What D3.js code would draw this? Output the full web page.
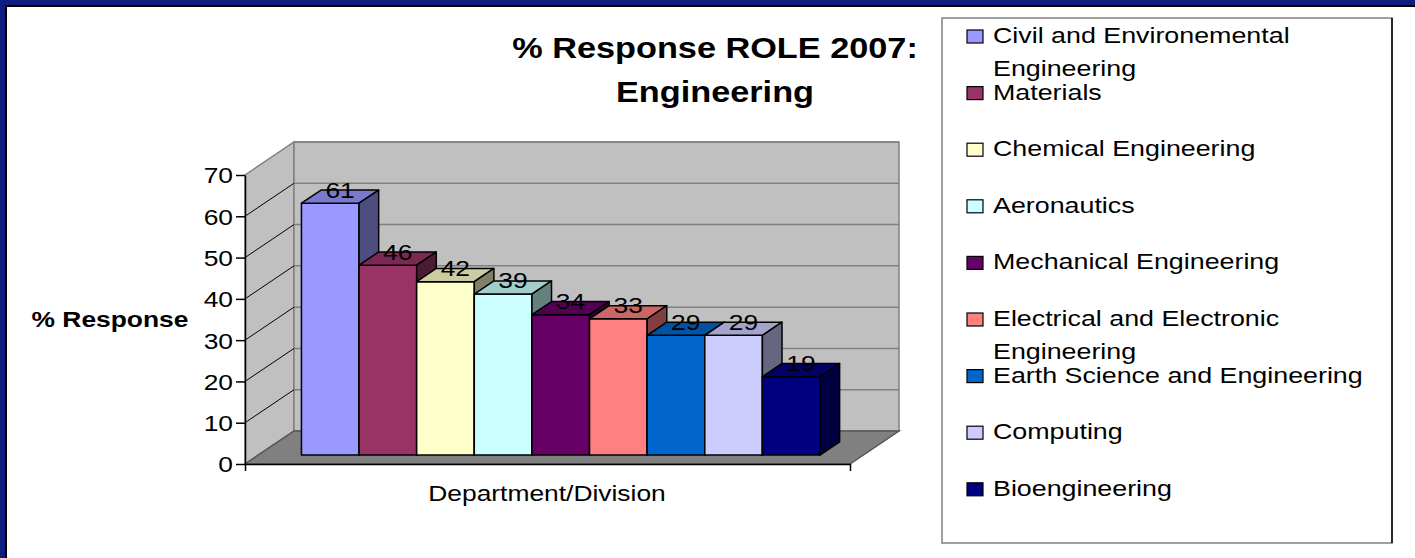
<!DOCTYPE html>
<html>
<head>
<meta charset="utf-8">
<script src="https://cdn.jsdelivr.net/npm/d3@7"></script>
<style>
  body { margin: 0; background: #fff; }
  text { font-family: "Liberation Sans", Arial, sans-serif; fill: #000; }
</style>
</head>
<body>
<div id="chart"></div>
<script>
// data
const departments = [
  "Civil and Environemental Engineering",
  "Materials",
  "Chemical Engineering",
  "Aeronautics",
  "Mechanical Engineering",
  "Electrical and Electronic Engineering",
  "Earth Science and Engineering",
  "Computing",
  "Bioengineering"
];
const responses = [61, 46, 42, 39, 34, 33, 29, 29, 19];
const barColors = ["#9999FF", "#993366", "#FFFFCC", "#CCFFFF", "#660066", "#FF8080", "#0066CC", "#CCCCFF", "#000080"];
const yTicks = [0, 10, 20, 30, 40, 50, 60, 70];
const categoryLabel = "Department/Division";

const W = 1415, H = 558;
const SX = 1.2;            // the original text is stretched sideways
const DX = 49, DY = -33;   // depth of the 3D box
const F0 = 0.27, F1 = 0.67; // where the bars sit in that depth

const svg = d3.select("#chart").append("svg").attr("width", W).attr("height", H);

// page frame
svg.append("rect").attr("x", 0).attr("y", 0).attr("width", W).attr("height", 7).attr("fill", "#000");
svg.append("rect").attr("x", 0).attr("y", 0).attr("width", 7).attr("height", H).attr("fill", "#000");
svg.append("rect").attr("x", 0).attr("y", 0).attr("width", W).attr("height", 5).attr("fill", "#0E1E7E");
svg.append("rect").attr("x", 0).attr("y", 0).attr("width", 5).attr("height", H).attr("fill", "#0E1E7E");

const y = d3.scaleLinear().domain([0, 70]).range([464, 175]);
const xFloor = d3.scaleLinear().domain([0, 1]).range([245, 850]);
const x = d3.scaleBand().domain(departments).range(xFloor.range()).paddingOuter(0.75).paddingInner(0);

const line = d3.line();
const x0 = xFloor(0), x1 = xFloor(1), yb = y(0), yt = y(70);

const g = svg.append("g");

// side wall, back wall, floor
g.append("path").attr("d", line([[x0, yt], [x0 + DX, yt + DY], [x0 + DX, yb + DY], [x0, yb]]) + "Z")
  .attr("fill", "#C0C0C0").attr("stroke", "#808080").attr("stroke-width", 1.5);
g.append("path").attr("d", line([[x0 + DX, yt + DY], [x1 + DX, yt + DY], [x1 + DX, yb + DY], [x0 + DX, yb + DY]]) + "Z")
  .attr("fill", "#C0C0C0").attr("stroke", "#808080").attr("stroke-width", 1.5);
g.append("path").attr("d", line([[x0, yb], [x1, yb], [x1 + DX, yb + DY], [x0 + DX, yb + DY]]) + "Z")
  .attr("fill", "#808080").attr("stroke", "#555").attr("stroke-width", 1.5);

// gridlines
g.selectAll(".grid-back").data(yTicks.slice(1)).enter().append("line")
  .attr("x1", x0 + DX).attr("x2", x1 + DX)
  .attr("y1", d => y(d) + DY).attr("y2", d => y(d) + DY)
  .attr("stroke", "#808080").attr("stroke-width", 1.5);
g.selectAll(".grid-side").data(yTicks.slice(1, -1)).enter().append("line")
  .attr("x1", x0).attr("x2", x0 + DX)
  .attr("y1", d => y(d)).attr("y2", d => y(d) + DY)
  .attr("stroke", "#000").attr("stroke-width", 1);

// axes
const yAxis = g.append("g").attr("transform", `translate(${x0},0)`)
  .call(d3.axisLeft(y).tickValues(yTicks).tickSize(9).tickSizeOuter(0).tickPadding(3));
yAxis.select(".domain").attr("stroke", "#000").attr("stroke-width", 1.5);
yAxis.selectAll(".tick line").attr("stroke", "#000").attr("stroke-width", 1.5);
yAxis.selectAll(".tick text").attr("x", -12 / SX).attr("dy", "0.36em")
  .attr("transform", `scale(${SX},1)`).style("font-size", "22px").attr("font-family", null);

const xAxis = g.append("g").attr("transform", `translate(0,${yb})`)
  .call(d3.axisBottom(xFloor).tickValues([0, 1]).tickSize(7).tickSizeOuter(0).tickFormat(""));
xAxis.select(".domain").attr("stroke", "#000").attr("stroke-width", 1.5);
xAxis.selectAll(".tick line").attr("stroke", "#000").attr("stroke-width", 1.5);

// 3D bars
const shade = (c, k) => { const r = d3.rgb(c); return d3.rgb(r.r * k, r.g * k, r.b * k).formatHex(); };
const bw = x.bandwidth();
const ox = F0 * DX, oy = F0 * DY, dx = (F1 - F0) * DX, dy = (F1 - F0) * DY;

const bars = g.selectAll(".bar").data(departments).enter().append("g").attr("class", "bar");
bars.each(function(d, i) {
  const b = d3.select(this);
  const l = x(d) + ox, r = l + bw, top = y(responses[i]) + oy, bot = yb + oy;
  b.append("path").attr("d", line([[l, top], [r, top], [r, bot], [l, bot]]) + "Z")
    .attr("fill", barColors[i]);
  b.append("path").attr("d", line([[l, top], [l + dx, top + dy], [r + dx, top + dy], [r, top]]) + "Z")
    .attr("fill", shade(barColors[i], 0.8));
  b.append("path").attr("d", line([[r, top], [r + dx, top + dy], [r + dx, bot + dy], [r, bot]]) + "Z")
    .attr("fill", shade(barColors[i], 0.5));
  b.selectAll("path").attr("stroke", "#000").attr("stroke-width", 1.5).attr("stroke-linejoin", "round");
});

// value labels
g.selectAll(".value").data(departments).enter().append("text")
  .attr("text-anchor", "middle").style("font-size", "22px")
  .attr("transform", (d, i) => `translate(${x(d) + ox + bw / 2 + dx / 2},${y(responses[i]) + oy + dy / 2 + 1}) scale(${SX},1)`)
  .text((d, i) => responses[i]);

// titles
const title = svg.append("text").attr("text-anchor", "middle").style("font-size", "29px").style("font-weight", "bold")
  .attr("transform", `translate(715,58) scale(${SX * 0.985},1)`);
title.append("tspan").attr("x", 0).attr("y", 0).text("% Response ROLE 2007:");
title.append("tspan").attr("x", 0).attr("y", 44).text("Engineering");

svg.append("text").attr("text-anchor", "middle").style("font-size", "22px").style("font-weight", "bold")
  .attr("transform", `translate(110,327) scale(${SX},1)`).text("% Response");

svg.append("text").attr("text-anchor", "middle").style("font-size", "22px")
  .attr("transform", `translate(547,501) scale(${SX},1)`).text(categoryLabel);

// legend
const legend = svg.append("g");
legend.append("rect").attr("x", 942).attr("y", 18).attr("width", 450).attr("height", 525)
  .attr("fill", "#fff").attr("stroke", "#808080").attr("stroke-width", 1.5);
legend.append("line").attr("x1", 1392).attr("x2", 1392).attr("y1", 18).attr("y2", 543)
  .attr("stroke", "#000").attr("stroke-width", 1.5);

const LX = 22, LSX = 1.22, maxW = 385;
const items = legend.selectAll(".item").data(departments).enter().append("g")
  .attr("transform", (d, i) => `translate(0,${43 + i * 56.6})`);
items.append("rect").attr("x", 967).attr("y", -13).attr("width", 16).attr("height", 13)
  .attr("fill", (d, i) => barColors[i]).attr("stroke", "#000").attr("stroke-width", 1.2);
items.append("text").style("font-size", LX + "px")
  .attr("transform", `translate(993,0) scale(${LSX},1)`)
  .each(function(d) {
    const t = d3.select(this);
    const words = d.split(" ");
    let ln = [], row = 0;
    let span = t.append("tspan").attr("x", 0).attr("y", 0);
    words.forEach(w => {
      ln.push(w);
      span.text(ln.join(" "));
      if (span.node().getComputedTextLength() * LSX > maxW && ln.length > 1) {
        ln.pop();
        span.text(ln.join(" "));
        ln = [w];
        row++;
        span = t.append("tspan").attr("x", 0).attr("y", row * 33).text(w);
      }
    });
  });
</script>
</body>
</html>
